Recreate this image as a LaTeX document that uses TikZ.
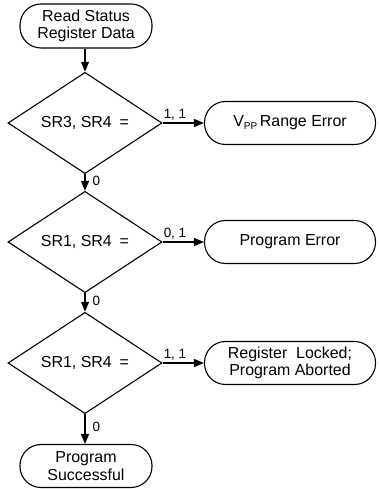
\documentclass[tikz,border=0pt]{standalone}
\usepackage{fontspec}
\setmainfont{Liberation Sans}
\usetikzlibrary{shapes.geometric,arrows.meta}
\begin{document}
\begin{tikzpicture}[x=1bp,y=1bp,
  every node/.style={font=\fontsize{16}{17.5}\selectfont},
  term/.style={draw,line width=1.1bp,rounded corners=21bp,minimum height=43bp,align=center,inner sep=0pt},
  dec/.style={draw,line width=1.1bp,diamond,minimum width=154bp,minimum height=75bp,inner sep=0pt},
  arr/.style={line width=1.1bp,-{Triangle[length=10bp,width=8bp]}},
  lbl/.style={font=\fontsize{13.5}{14}\selectfont,inner sep=2bp}]
\useasboundingbox (0,0) rectangle (378,489);
\node[term,minimum width=132bp,minimum height=44bp] (start) at (86,463) {Read Status\\Register Data};
\node[dec] (d1) at (85,366) {SR3, SR4\enspace=};
\node[dec] (d2) at (85,247) {SR1, SR4\enspace=};
\node[dec] (d3) at (85,126) {SR1, SR4\enspace=};
\node[term,minimum width=132bp] (end) at (86,23) {Program\\Successful};
\node[term,minimum width=171bp] (t1) at (290,366) {V\raisebox{-0.35ex}{\fontsize{10}{10}\selectfont PP}\,Range Error};
\node[term,minimum width=171bp] (t2) at (290,247) {Program Error};
\node[term,minimum width=171bp] (t3) at (290,126) {Register\ \ Locked;\\Program Aborted};
\draw[arr] (start.south -| d1.north) -- (d1.north);
\draw[arr] (d1.south) -- node[lbl,right,pos=0.42,xshift=5bp]{0} (d2.north);
\draw[arr] (d2.south) -- node[lbl,right,pos=0.42,xshift=5bp]{0} (d3.north);
\draw[arr] (d3.south) -- node[lbl,right,pos=0.42,xshift=5bp]{0} (end.north -| d3.south);
\draw[arr] (d1.east) -- node[lbl,above,pos=0.3]{1, 1} (t1.west);
\draw[arr] (d2.east) -- node[lbl,above,pos=0.3]{0, 1} (t2.west);
\draw[arr] (d3.east) -- node[lbl,above,pos=0.3]{1, 1} (t3.west);
\end{tikzpicture}
\end{document}
